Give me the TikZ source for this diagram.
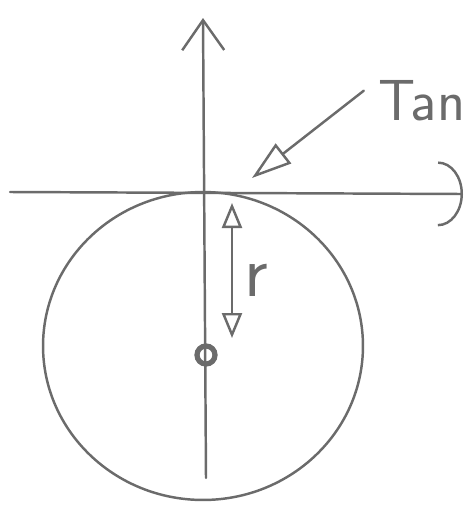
\documentclass[tikz,border=0pt]{standalone}
\usetikzlibrary{arrows.meta}

\definecolor{pencil}{gray}{0.42}
\tikzset{
  pencil/.style={draw=pencil, line width=1.4pt, line cap=round, line join=round},
  hand/.style={text=pencil, font=\sffamily\fontsize{33}{33}\selectfont, inner sep=0pt}
}

\begin{document}
\begin{tikzpicture}[x=0.02cm, y=-0.02cm]
    \useasboundingbox (0, 0) rectangle (470, 508);
    % axes
    \coordinate (left) at (10, 192);
    \coordinate (right) at (463, 194);
    \coordinate (bottom) at (206, 478);
    \coordinate (top) at (203, 18);
    \coordinate (origin) at (205, 192);
    \draw[pencil, -{Arc Barb[length=5mm, width=13mm]}] (left) -- (right);
    \draw[pencil, -{Straight Barb[length=6mm, width=8.4mm]}] (bottom) -- (top);
    % the circle and its centre
    \draw[pencil] (203, 346) ellipse [x radius=3.2cm, y radius=3.08cm];
    \node[circle, draw=pencil, line width=3pt, minimum size=0.36cm, inner sep=0pt] (centre) at (206, 355) {};
    % radius
    \coordinate (rtop) at (232, 203);
    \coordinate (rbot) at (232, 338);
    \draw[pencil, {Triangle[open, length=5mm, width=4mm]}-{Triangle[open, length=5mm, width=4mm]}] (rtop) -- (rbot);
    \node[hand, anchor=base west, font=\sffamily\fontsize{42}{42}\selectfont] (r) at (244, 296) {r};
    % tangent label
    \node[hand, anchor=base west] (tan) at (378, 120) {Tan};
    \coordinate (touch) at (252, 178);
    \draw[pencil, shorten <=0.36cm, -{Triangle[open, length=8mm, width=5mm]}] (tan.north west) -- (touch);
\end{tikzpicture}
\end{document}
